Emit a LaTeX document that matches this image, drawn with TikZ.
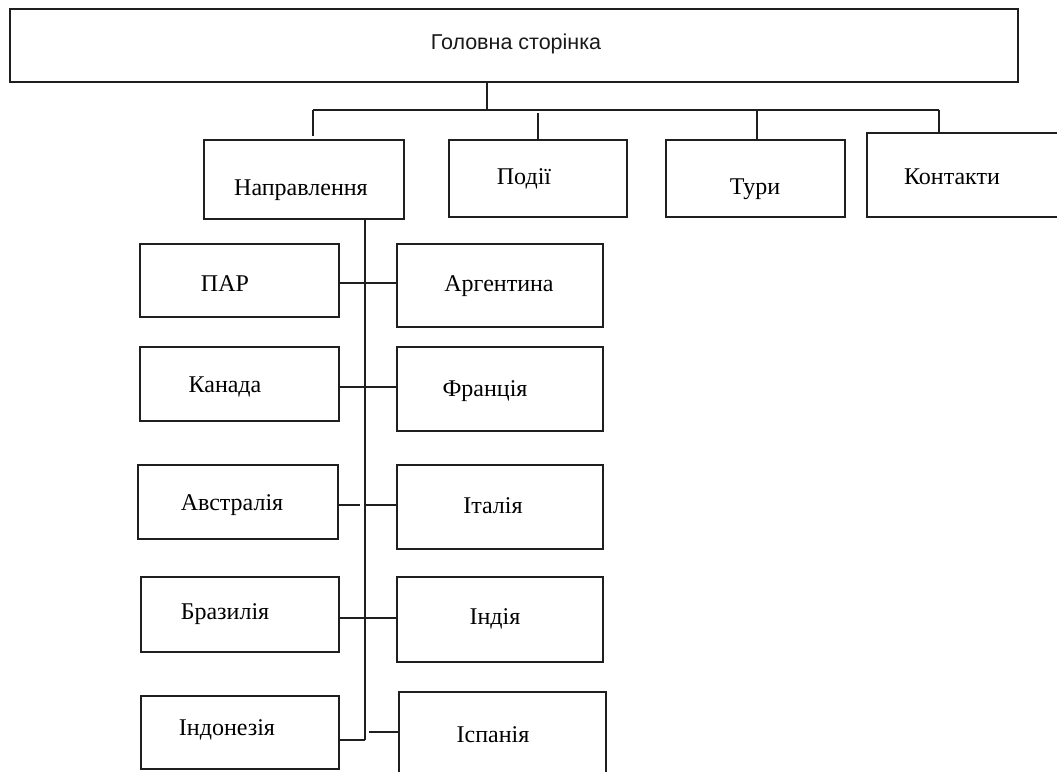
\documentclass[tikz,border=0pt]{standalone}
\usepackage{fontspec}
\setmainfont{Liberation Serif}
\newfontfamily\topfont{Liberation Sans}
\newcommand\mkbox[5]{\node[boxst,minimum width={#4-#2},minimum height={#5-#3}] (#1) at ({(#2+#4)/2},{(#3+#5)/2}) {};}
\begin{document}
\begin{tikzpicture}[x=1pt,y=-1pt,
  boxst/.style={draw=black!88,line width=1.5pt,inner sep=0pt},
  lbl/.style={inner sep=0pt,text=black,font=\fontsize{24}{26}\selectfont},
  toplbl/.style={inner sep=0pt,text=black!90,font=\topfont\fontsize{21.5}{23}\selectfont},
  conn/.style={draw=black!88,line width=1.5pt}]
\useasboundingbox (0,0) rectangle (1057,771);
\clip (0,0) rectangle (1057,771);
% boxes
\mkbox{top}{10}{9}{1018}{82}
\mkbox{napr}{204}{140}{404}{219}
\mkbox{podii}{449}{140}{627}{217}
\mkbox{tury}{666}{140}{845}{217}
\mkbox{kont}{867}{133}{1075}{217}
\mkbox{par}{140}{244}{339}{317}
\mkbox{arg}{397}{244}{603}{327}
\mkbox{kan}{140}{347}{339}{421}
\mkbox{fra}{397}{347}{603}{431}
\mkbox{avs}{138}{465}{338}{539}
\mkbox{ita}{397}{465}{603}{549}
\mkbox{bra}{141}{577}{339}{652}
\mkbox{ind}{397}{577}{603}{662}
\mkbox{indo}{141}{696}{339}{769}
\mkbox{isp}{399}{692}{606}{800}
% labels
\node[toplbl] (topT) at (516,44) {Головна сторінка};
\node[lbl] (naprT) at (301,190) {Направлення};
\node[lbl] (podiiT) at (524,179) {Події};
\node[lbl] (turyT) at (755,189) {Тури};
\node[lbl] (kontT) at (952,177) {Контакти};
\node[lbl] (parT) at (225,284) {ПАР};
\node[lbl] (argT) at (499,286) {Аргентина};
\node[lbl] (kanT) at (225,387) {Канада};
\node[lbl] (fraT) at (485,391) {Франція};
\node[lbl] (avsT) at (232,505) {Австралія};
\node[lbl] (itaT) at (493,506) {Італія};
\node[lbl] (braT) at (225,614) {Бразилія};
\node[lbl] (indT) at (495,619) {Індія};
\node[lbl] (indoT) at (227,730) {Індонезія};
\node[lbl] (ispT) at (493,735) {Іспанія};
% bus coordinates
\coordinate (bus) at (487,110);
\coordinate (busL) at (313,110);
\coordinate (busR) at (939,110);
\coordinate (dropN) at (313,136);
\coordinate (dropP) at (538,113);
\coordinate (dropT) at (757,110);
\coordinate (trunk) at (365,740);
\coordinate (cPar) at (365,283);
\coordinate (cKan) at (365,387);
\coordinate (cAvs) at (365,505);
\coordinate (gAvs) at (360,505);
\coordinate (cBra) at (365,618);
\coordinate (cIndo) at (365,740);
\coordinate (cIsp) at (369,732);
% connectors
\draw[conn] (top.south -| bus) -- (bus);
\draw[conn] (busL) -- (busR);
\draw[conn] (busL) -- (dropN);
\draw[conn] (dropP) -- (dropP |- podii.north);
\draw[conn] (dropT) -- (dropT |- tury.north);
\draw[conn] (busR) -- (busR |- kont.north);
\draw[conn] (napr.south -| trunk) -- (trunk);
\draw[conn] (par.east |- cPar) -- (arg.west |- cPar);
\draw[conn] (kan.east |- cKan) -- (fra.west |- cKan);
\draw[conn] (avs.east |- cAvs) -- (gAvs);
\draw[conn] (cAvs) -- (ita.west |- cAvs);
\draw[conn] (bra.east |- cBra) -- (ind.west |- cBra);
\draw[conn] (indo.east |- cIndo) -- (cIndo);
\draw[conn] (cIsp) -- (isp.west |- cIsp);
\end{tikzpicture}
\end{document}
